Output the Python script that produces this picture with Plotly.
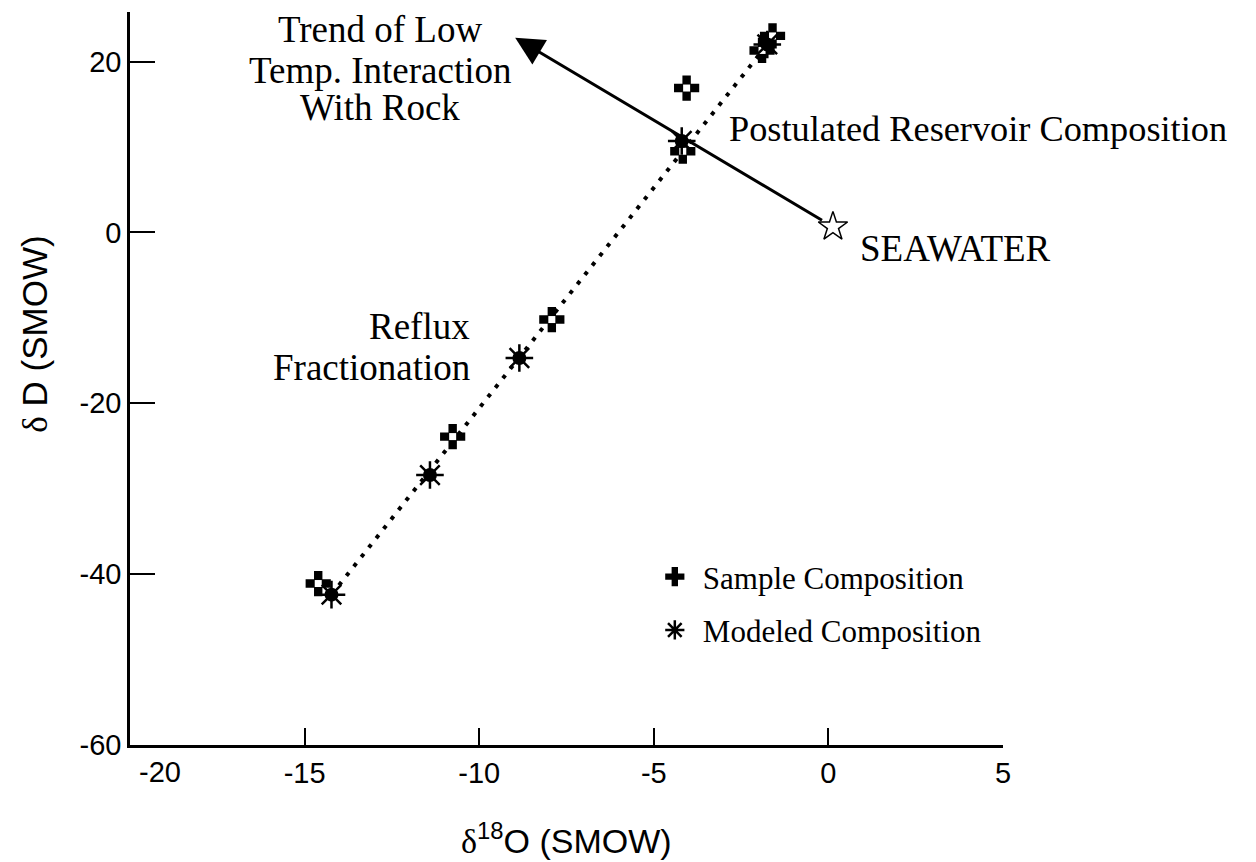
import plotly.graph_objects as go

# Measured isotope compositions (per mil vs SMOW)
sample_x = [-1.6, -1.9, -4.06, -4.17, -7.92, -10.76, -14.61]
sample_y = [23.0, 21.3, 16.9, 9.5, -10.2, -23.9, -41.1]

# Modeled reflux-fractionation compositions
model_x = [-14.23, -11.41, -8.85, -4.2, -1.75]
model_y = [-42.4, -28.4, -14.7, 10.7, 22.0]

# Seawater reference point and end of the low-temperature rock-interaction trend
seawater_x = [0.13]
seawater_y = [0.66]
trend_end_x = -8.97
trend_end_y = 22.8

x_ticks = [-20, -15, -10, -5, 0, 5]
x_tick_text = ["", "-15", "-10", "-5", "0", "5"]   # "-20" is placed separately, clear of the y axis
y_ticks = [-60, -40, -20, 0, 20]
y_tick_text = ["-60", "-40", "-20", "0", "20"]

SERIF = "Liberation Serif, Times New Roman, serif"
SANS = "Liberation Sans, Arial, sans-serif"

fig = go.Figure()

# dotted fractionation line through the modeled compositions
fig.add_trace(go.Scatter(
    x=[model_x[0], model_x[-1]], y=[model_y[0], model_y[-1]],
    mode="lines", line=dict(color="black", width=4, dash="4px,8px"),
    showlegend=False, hoverinfo="skip"))

fig.add_trace(go.Scatter(
    x=sample_x, y=sample_y, mode="markers", name="Sample Composition",
    legendgroup="sample",
    marker=dict(symbol="cross", size=21, color="black")))
fig.add_trace(go.Scatter(
    x=sample_x, y=sample_y, mode="markers", showlegend=False,
    legendgroup="sample", hoverinfo="skip",
    marker=dict(symbol="square", size=7, color="white")))

fig.add_trace(go.Scatter(
    x=model_x, y=model_y, mode="markers", name="Modeled Composition",
    legendgroup="model",
    marker=dict(symbol="asterisk-open", size=23, color="black",
                line=dict(color="black", width=2.5))))
fig.add_trace(go.Scatter(
    x=model_x, y=model_y, mode="markers", showlegend=False,
    legendgroup="model", hoverinfo="skip",
    marker=dict(symbol="circle", size=14, color="black")))

fig.add_trace(go.Scatter(
    x=seawater_x, y=seawater_y, mode="markers", showlegend=False,
    marker=dict(symbol="star-open", size=22, color="black",
                line=dict(color="black", width=1.5))))

annotations = [
    # trend arrow from seawater
    dict(x=trend_end_x, y=trend_end_y, ax=seawater_x[0], ay=seawater_y[0],
         xref="x", yref="y", axref="x", ayref="y", text="",
         showarrow=True, arrowhead=2, arrowsize=1.9, arrowwidth=3,
         arrowcolor="black", startstandoff=11),
    # first x tick label, nudged right of the corner
    dict(x=x_ticks[0], y=0, xref="x", yref="paper", text="-20",
         showarrow=False, xanchor="center", yanchor="top", xshift=30, yshift=-9,
         font=dict(family=SANS, size=29, color="black")),
]

def label(text, x, y, xanchor="center", size=37):
    annotations.append(dict(x=x, y=y, xref="x", yref="y", text=text,
                            showarrow=False, xanchor=xanchor, yanchor="middle",
                            font=dict(family=SERIF, size=size, color="black")))

label("Trend of Low", -12.85, 23.7)
label("Temp. Interaction", -12.85, 19.0)
label("With Rock", -12.85, 14.6)
label("Postulated Reservoir Composition", -2.9, 12.1, "left", 36.3)
label("SEAWATER", 0.85, -1.9, "left")
label("Reflux", -10.2, -11.0, "right")
label("Fractionation", -10.2, -15.8, "right")

delta = '<span style="font-family:Liberation Serif">δ</span>'
annotations.append(dict(
    x=0.5, y=-0.127, xref="paper", yref="paper", showarrow=False,
    text=delta + "<sup>18</sup>O (SMOW)", xanchor="center", yanchor="middle",
    font=dict(family=SANS, size=34, color="black")))
annotations.append(dict(
    x=-0.109, y=0.561, xref="paper", yref="paper", showarrow=False,
    text=delta + " D (SMOW)", textangle=-90, xanchor="center", yanchor="middle",
    font=dict(family=SANS, size=35, color="black")))

fig.update_layout(
    width=1256, height=862,
    margin=dict(l=130, r=253, t=12, b=117),
    paper_bgcolor="white", plot_bgcolor="white",
    annotations=annotations,
    legend=dict(x=0.592, y=0.266, xanchor="left", yanchor="top",
                font=dict(family=SERIF, size=31, color="black"),
                bgcolor="rgba(0,0,0,0)", traceorder="grouped",
                tracegroupgap=10, itemwidth=46),
)

fig.update_xaxes(
    range=[-20, 5], tickvals=x_ticks, ticktext=x_tick_text, ticks="inside",
    ticklen=17, tickwidth=2, tickcolor="black", showline=True, linewidth=2.5,
    linecolor="black", showgrid=False, zeroline=False,
    tickfont=dict(family=SANS, size=29, color="black"))
fig.update_yaxes(
    range=[-60, 25.8], tickvals=y_ticks, ticktext=y_tick_text, ticks="inside",
    ticklen=25, tickwidth=2, tickcolor="black", showline=True, linewidth=2.5,
    linecolor="black", showgrid=False, zeroline=False,
    tickfont=dict(family=SANS, size=29, color="black"))

fig.write_html("out.html")
